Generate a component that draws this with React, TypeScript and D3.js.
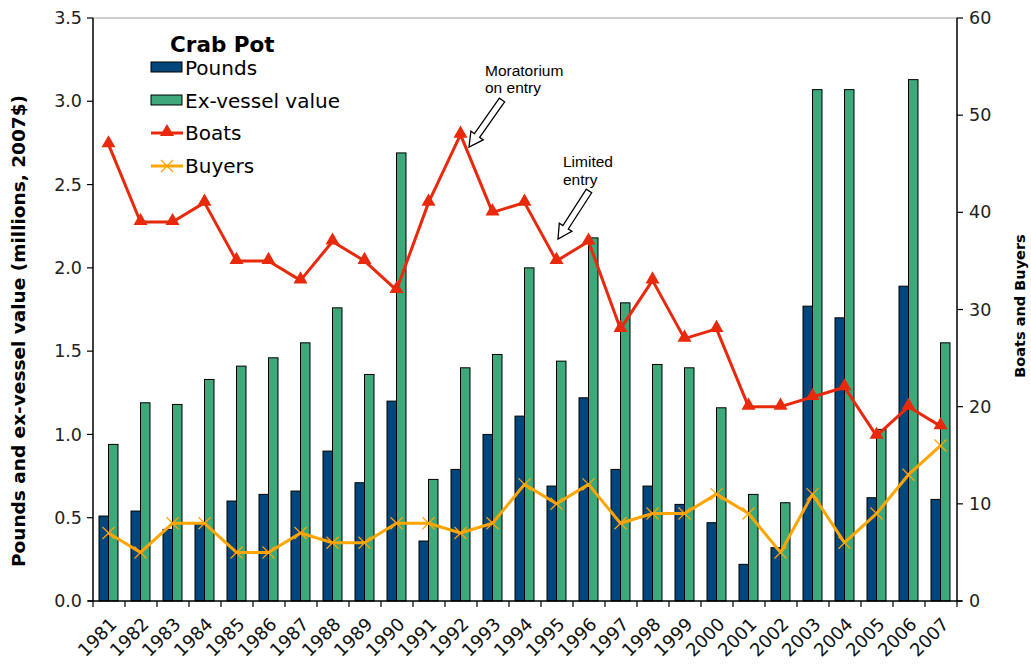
import React from 'react';
import * as d3 from 'd3';

const years = ['1981','1982','1983','1984','1985','1986','1987','1988','1989','1990','1991','1992','1993','1994','1995','1996','1997','1998','1999','2000','2001','2002','2003','2004','2005','2006','2007'];
const pounds = [0.51,0.54,0.43,0.47,0.60,0.64,0.66,0.90,0.71,1.20,0.36,0.79,1.00,1.11,0.69,1.22,0.79,0.69,0.58,0.47,0.22,0.32,1.77,1.70,0.62,1.89,0.61];
const exVessel = [0.94,1.19,1.18,1.33,1.41,1.46,1.55,1.76,1.36,2.69,0.73,1.40,1.48,2.00,1.44,2.18,1.79,1.42,1.40,1.16,0.64,0.59,3.07,3.07,1.03,3.13,1.55];
const boats = [47,39,39,41,35,35,33,37,35,32,41,48,40,41,35,37,28,33,27,28,20,20,21,22,17,20,18];
const buyers = [7,5,8,8,5,5,7,6,6,8,8,7,8,12,10,12,8,9,9,11,9,5,11,6,9,13,16];
const leftTicks = [0, 0.5, 1.0, 1.5, 2.0, 2.5, 3.0, 3.5];
const rightTicks = [0, 10, 20, 30, 40, 50, 60];

const C_POUNDS = '#02467A';
const C_VALUE = '#3DA87A';
const C_BOATS = '#E8290B';
const C_BUYERS = '#FFA500';
const FONT = 'Verdana, "DejaVu Sans", sans-serif';
const AFONT = 'Arial, "Liberation Sans", sans-serif';

const L = 93, R = 957, T = 18, B = 601;

function BlockArrow({ x1, y1, x2, y2 }: { x1: number; y1: number; x2: number; y2: number }) {
  const len = Math.hypot(x2 - x1, y2 - y1);
  const ang = (Math.atan2(y2 - y1, x2 - x1) * 180) / Math.PI;
  const hl = 14, sw = 3.2, hw = 7.5;
  const pts = [
    [0, -sw], [len - hl, -sw], [len - hl, -hw], [len, 0], [len - hl, hw], [len - hl, sw], [0, sw],
  ].map(p => p.join(',')).join(' ');
  return (
    <g transform={`translate(${x1},${y1}) rotate(${ang})`}>
      <polygon points={pts} fill="#fff" stroke="#000" strokeWidth={1.3} strokeLinejoin="miter" />
    </g>
  );
}

export default function App() {
  const x = d3.scaleBand<string>().domain(years).range([L, R]).paddingInner(0).paddingOuter(0);
  const bw = x.bandwidth();
  const inner = d3.scaleBand<string>().domain(['p', 'v']).range([6, 25]).padding(0);
  const yL = d3.scaleLinear().domain([0, 3.5]).range([B, T]);
  const yR = d3.scaleLinear().domain([0, 60]).range([B, T]);
  const cx = (y: string) => (x(y) as number) + bw / 2 - 0.5;

  const boatsLine = d3.line<number>().x((_, i) => cx(years[i])).y(d => yR(d))(boats) as string;
  const buyersLine = d3.line<number>().x((_, i) => cx(years[i])).y(d => yR(d))(buyers) as string;
  const tri = d3.symbol().type(d3.symbolTriangle).size(85)() as string;

  const xTicks = years.map(y => x(y) as number).concat([R]);

  return (
    <svg width={1031} height={664} style={{ position: 'absolute', left: 0, top: 0 }} fontFamily={FONT}>
      <rect width={1031} height={664} fill="#fff" />
      <line x1={L} x2={R} y1={T} y2={T} stroke="#a0a0a0" strokeWidth={1} />
      {years.map((y, i) => (
        <g key={y}>
          <rect x={(x(y) as number) + (inner('p') as number)} y={yL(pounds[i])} width={inner.bandwidth()} height={B - yL(pounds[i])} fill={C_POUNDS} stroke="#000" strokeWidth={1} />
          <rect x={(x(y) as number) + (inner('v') as number)} y={yL(exVessel[i])} width={inner.bandwidth()} height={B - yL(exVessel[i])} fill={C_VALUE} stroke="#000" strokeWidth={1} />
        </g>
      ))}
      <path d={boatsLine} fill="none" stroke={C_BOATS} strokeWidth={3} strokeLinejoin="round" />
      {boats.map((d, i) => (
        <path key={i} d={tri} transform={`translate(${cx(years[i])},${yR(d) - 1})`} fill={C_BOATS} />
      ))}
      <path d={buyersLine} fill="none" stroke={C_BUYERS} strokeWidth={3} strokeLinejoin="round" />
      {buyers.map((d, i) => (
        <g key={i} transform={`translate(${cx(years[i])},${yR(d)})`} stroke={C_BUYERS} strokeWidth={1.3}>
          <line x1={-6} y1={-6} x2={6} y2={6} />
          <line x1={-6} y1={6} x2={6} y2={-6} />
        </g>
      ))}
      <line x1={L} x2={L} y1={T} y2={B} stroke="#000" strokeWidth={1.5} />
      <line x1={R} x2={R} y1={T} y2={B} stroke="#000" strokeWidth={1.5} />
      <line x1={L - 5} x2={R + 5} y1={B} y2={B} stroke="#000" strokeWidth={1.5} />
      {leftTicks.map(t => (
        <g key={t}>
          <line x1={L - 6} x2={L} y1={yL(t)} y2={yL(t)} stroke="#000" strokeWidth={1.2} />
          <text x={L - 11} y={yL(t)} dy="0.35em" textAnchor="end" fontSize={17.5} fill="#222">{d3.format('.1f')(t)}</text>
        </g>
      ))}
      {rightTicks.map(t => (
        <g key={t}>
          <line x1={R} x2={R + 6} y1={yR(t)} y2={yR(t)} stroke="#000" strokeWidth={1.2} />
          <text x={R + 12} y={yR(t)} dy="0.35em" textAnchor="start" fontSize={17.5} fill="#222">{t}</text>
        </g>
      ))}
      {xTicks.map((t, i) => (
        <line key={i} x1={t} x2={t} y1={B} y2={B + 6} stroke="#000" strokeWidth={1.2} />
      ))}
      {years.map(y => (
        <text key={y} transform={`translate(${cx(y) + 5},${B + 20}) rotate(-45)`} textAnchor="end" dy="0.35em" fontSize={18} fill="#111">{y}</text>
      ))}
      <text transform={`translate(19,331) rotate(-90)`} textAnchor="middle" dy="0.35em" fontSize={18.5} fontWeight="bold" fill="#000">Pounds and ex-vessel value (millions, 2007$)</text>
      <text transform={`translate(1020,306) rotate(-90)`} textAnchor="middle" dy="0.35em" fontSize={14.5} fontWeight="bold" fill="#000">Boats and Buyers</text>
      <text x={170} y={52} fontSize={21.5} fontWeight="bold" fill="#000">Crab Pot</text>
      <rect x={151} y={62} width={31} height={10} fill={C_POUNDS} stroke="#000" strokeWidth={1} />
      <text x={185} y={75} fontSize={20} fill="#000">Pounds</text>
      <rect x={151} y={95} width={31} height={10} fill={C_VALUE} stroke="#000" strokeWidth={1} />
      <text x={185} y={108} fontSize={20} fill="#000">Ex-vessel value</text>
      <line x1={151} x2={183} y1={133} y2={133} stroke={C_BOATS} strokeWidth={3} />
      <path d={tri} transform="translate(167,132)" fill={C_BOATS} />
      <text x={185} y={140} fontSize={20} fill="#000">Boats</text>
      <line x1={151} x2={183} y1={166} y2={166} stroke={C_BUYERS} strokeWidth={3} />
      <g transform="translate(167,166)" stroke={C_BUYERS} strokeWidth={1.3}>
        <line x1={-6} y1={-6} x2={6} y2={6} />
        <line x1={-6} y1={6} x2={6} y2={-6} />
      </g>
      <text x={185} y={173} fontSize={20} fill="#000">Buyers</text>
      <text x={485} y={76} fontFamily={AFONT} fontSize={15.5} fill="#000">Moratorium</text>
      <text x={485} y={93} fontFamily={AFONT} fontSize={15.5} fill="#000">on entry</text>
      <BlockArrow x1={502} y1={100} x2={469} y2={147} />
      <text x={563} y={167} fontFamily={AFONT} fontSize={15.5} fill="#000">Limited</text>
      <text x={563} y={185} fontFamily={AFONT} fontSize={15.5} fill="#000">entry</text>
      <BlockArrow x1={589} y1={191} x2={558} y2={239} />
    </svg>
  );
}
